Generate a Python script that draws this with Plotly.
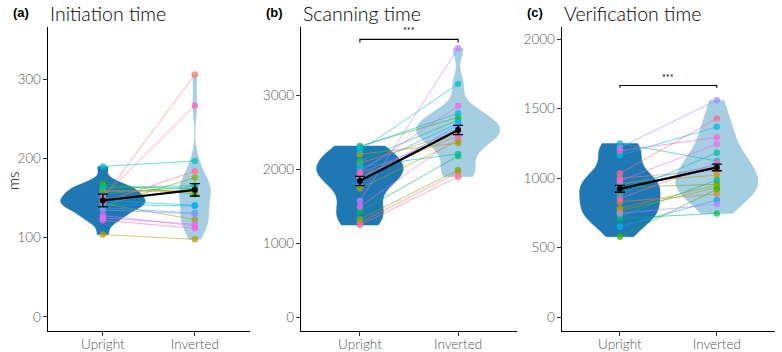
import numpy as np
import plotly.graph_objects as go

# ---------------- data ----------------
conditions = ["Upright", "Inverted"]
cond_pos = [1, 2]

# ggplot hue palette, one colour per participant
participant_colors = [
    "#F8766D", "#EA8331", "#D89000", "#C09B00", "#A3A500",
    "#7CAE00", "#39B600", "#00BB4E", "#00BF7D", "#00C1A3",
    "#00BFC4", "#00BAE0", "#00B0F6", "#35A2FF", "#9590FF",
    "#C77CFF", "#E76BF3", "#FA62DB", "#FF62BC", "#FF6C91",
]

# (a) Initiation time (ms), per participant
init_upright = [150, 158, 160, 104, 143, 140, 168, 165, 155, 163,
                190, 147, 142, 138, 135, 125, 128, 122, 152, 145]
init_inverted = [306, 160, 158, 98, 123, 176, 155, 162, 165, 166,
                 197, 141, 140, 131, 130, 117, 115, 112, 267, 184]

# (b) Scanning time (ms)
scan_upright = [1275, 2080, 1900, 2200, 1739, 1320, 2311, 1423, 2112, 2032,
                2248, 2300, 2000, 1806, 1874, 1568, 1491, 1960, 1941, 1243]
scan_inverted = [1955, 2500, 2450, 2350, 2378, 1986, 2698, 2176, 2662, 2203,
                 3149, 2752, 2620, 2600, 2560, 3631, 2428, 2851, 2482, 1896]

# (c) Verification time (ms)
verif_upright = [998, 830, 965, 782, 765, 935, 578, 710, 725, 885,
                 1250, 1165, 650, 950, 1221, 746, 981, 1197, 854, 1034]
verif_inverted = [1060, 885, 1022, 950, 933, 955, 919, 746, 986, 1182,
                  1124, 1369, 842, 1094, 1561, 811, 1245, 1293, 1110, 1429]

# condition means and error bars
init_mean = [147, 160.5]
init_err = [8, 7.8]
scan_mean = [1838, 2527]
scan_err = [63, 63]
verif_mean = [923, 1077]
verif_err = [25, 24]

# significance brackets: [bar height, tip end, label height]
scan_sig = [3752, 3711, 3865]
verif_sig = [1667, 1650, 1724]
sig_label = "***"

titles = ["Initiation time", "Scanning time", "Verification time"]
panel_tags = ["(a)", "(b)", "(c)"]
y_ticks = [[0, 100, 200, 300], [0, 1000, 2000, 3000], [0, 500, 1000, 1500, 2000]]
y_label = "ms"

# ---------------- style ----------------
W, H = 782, 352
FONT = "Lato"
UP_FILL = "#1F78B4"
INV_FILL = "#A6CEE3"

panels = [
    dict(up=init_upright, inv=init_inverted, mean=init_mean, err=init_err, sig=None,
         xdom=(47.7, 250), yrange=[-17.7, 366], vw=(0.92, 0.34)),
    dict(up=scan_upright, inv=scan_inverted, mean=scan_mean, err=scan_err, sig=scan_sig,
         xdom=(301, 517), yrange=[-189, 3919], vw=(0.88, 0.85)),
    dict(up=verif_upright, inv=verif_inverted, mean=verif_mean, err=verif_err, sig=verif_sig,
         xdom=(561.7, 775), yrange=[-100.7, 2088], vw=(0.83, 0.85)),
]

y_top_px, y_bot_px = 27, 331


def bw_nrd0(v):
    v = np.asarray(v, float)
    sd = np.std(v, ddof=1)
    iqr = np.subtract(*np.percentile(v, [75, 25]))
    lo = min(sd, iqr / 1.34) if iqr > 0 else sd
    return 0.9 * lo * len(v) ** (-0.2)


fig = go.Figure()
annotations = []

for i, p in enumerate(panels):
    sfx = "" if i == 0 else str(i + 1)
    xa, ya = "x" + sfx, "y" + sfx

    # violins
    for vals, pos, fill, w in [(p["up"], 1, UP_FILL, p["vw"][0]),
                               (p["inv"], 2, INV_FILL, p["vw"][1])]:
        fig.add_trace(go.Violin(
            x0=pos, y=vals, xaxis=xa, yaxis=ya, width=w, scalemode="width",
            spanmode="hard", bandwidth=bw_nrd0(vals), points=False,
            fillcolor=fill, line=dict(color=fill, width=0.5), opacity=1,
            box_visible=False, meanline_visible=False, showlegend=False,
            hoverinfo="skip"))

    # participant lines
    for k in range(len(p["up"])):
        fig.add_trace(go.Scatter(
            x=cond_pos, y=[p["up"][k], p["inv"][k]], xaxis=xa, yaxis=ya,
            mode="lines", line=dict(color=participant_colors[k], width=1),
            opacity=0.55, showlegend=False, hoverinfo="skip"))

    # participant points
    for vals, pos in [(p["up"], 1), (p["inv"], 2)]:
        fig.add_trace(go.Scatter(
            x=[pos] * len(vals), y=vals, xaxis=xa, yaxis=ya, mode="markers",
            marker=dict(color=participant_colors[:len(vals)], size=6.5, opacity=0.75,
                        line=dict(width=0)),
            showlegend=False, hoverinfo="skip"))

    # mean + error bars
    fig.add_trace(go.Scatter(
        x=cond_pos, y=p["mean"], xaxis=xa, yaxis=ya, mode="lines+markers",
        line=dict(color="black", width=2.2), marker=dict(color="black", size=6),
        error_y=dict(type="data", array=p["err"], color="black", thickness=1.4, width=5),
        showlegend=False, hoverinfo="skip"))

    # significance bracket
    if p["sig"] is not None:
        top, tip, lab = p["sig"]
        fig.add_trace(go.Scatter(
            x=[1, 1, 2, 2], y=[tip, top, top, tip], xaxis=xa, yaxis=ya, mode="lines",
            line=dict(color="black", width=1.1), showlegend=False, hoverinfo="skip"))
        annotations.append(dict(x=1.5, y=lab, xref=xa, yref=ya, text=sig_label,
                                showarrow=False, font=dict(family=FONT, size=9, color="black")))

    dom = [p["xdom"][0] / W, p["xdom"][1] / W]
    ydom = [(H - y_bot_px) / H, (H - y_top_px) / H]
    axis_common = dict(showline=True, linecolor="black", linewidth=1.2, ticks="outside",
                       ticklen=4, tickwidth=1, tickcolor="#333333", showgrid=False,
                       zeroline=False, automargin=False,
                       tickfont=dict(family=FONT, size=13.5, color="#555555", weight=300))
    fig.update_layout(**{
        "xaxis" + sfx: dict(domain=dom, range=[0.4, 2.6], tickvals=cond_pos,
                            ticktext=conditions, anchor=ya, ticklabelstandoff=-3,
                            **axis_common),
        "yaxis" + sfx: dict(domain=ydom, range=p["yrange"], tickvals=y_ticks[i],
                            anchor=xa, ticklabelstandoff=-1, **axis_common),
    })

    # titles and tags
    annotations.append(dict(x=p["xdom"][0] / W, y=1 - 13 / H, xref="paper", yref="paper",
                            xanchor="left", yanchor="middle", text=titles[i], showarrow=False,
                            font=dict(family=FONT, size=19.5, color="black", weight=300)))
    annotations.append(dict(x=(p["xdom"][0] - 37) / W, y=1 - 12.5 / H, xref="paper", yref="paper",
                            xanchor="left", yanchor="middle", text="<b>%s</b>" % panel_tags[i],
                            showarrow=False,
                            font=dict(family="Liberation Sans", size=13, color="black")))

annotations.append(dict(x=13 / W, y=1 - 181 / H, xref="paper", yref="paper",
                        xanchor="center", yanchor="middle", text=y_label, textangle=-90,
                        showarrow=False, font=dict(family=FONT, size=15, color="black", weight=300)))

fig.update_layout(width=W, height=H, margin=dict(l=0, r=0, t=0, b=0),
                  paper_bgcolor="white", plot_bgcolor="white",
                  annotations=annotations, showlegend=False)

fig.write_html("out.html", config={"displayModeBar": False},
               post_script="document.body.style.margin='0';document.body.style.overflow='hidden';")
